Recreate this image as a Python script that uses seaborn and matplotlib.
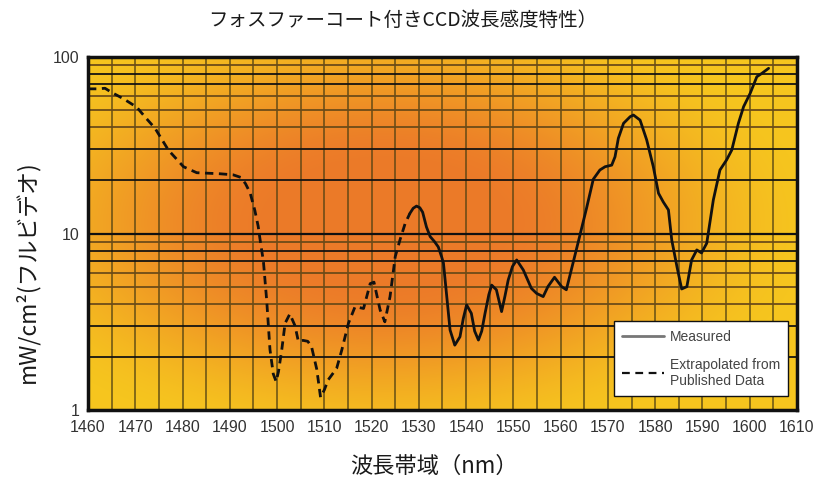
import numpy as np
import pandas as pd
import matplotlib
matplotlib.use("Agg")
import matplotlib.pyplot as plt
from matplotlib.lines import Line2D
from matplotlib.ticker import FixedLocator, NullFormatter
import seaborn as sns

# Extrapolated (published data) part of the sensitivity curve
extrap_nm = [1460, 1462, 1463.6, 1465, 1467.5, 1470.3, 1472.3, 1474.2, 1477, 1480.2,
             1483, 1487.9, 1490.7, 1492.3, 1493.3, 1494.3, 1495.3, 1496, 1496.6, 1497.1,
             1497.8, 1498.5, 1499.2, 1499.8, 1500.3, 1501, 1501.7, 1502.7, 1503.8, 1504.5,
             1505.5, 1506.5, 1507.3, 1508.4, 1509.2, 1510, 1510.8, 1512.6, 1513.7, 1515.1,
             1516.5, 1518.3, 1519.7, 1520.5, 1521.8, 1522.8, 1523.9, 1525, 1526, 1527.1,
             1528.1]
extrap_val = [66, 66, 66.5, 63, 58, 52, 45, 39.4, 29.7, 23.9,
              22.1, 21.8, 21.5, 20.8, 19.2, 17.0, 13.5, 11, 8.5, 7.0,
              4.2, 2.2, 1.6, 1.45, 1.65, 2.2, 3.1, 3.5, 3.0, 2.45,
              2.48, 2.45, 2.28, 1.7, 1.18, 1.3, 1.48, 1.72, 2.19, 3.1,
              3.85, 3.76, 5.2, 5.3, 3.69, 3.16, 4.39, 7.39, 9.19, 11.4,
              13.0]

# Measured part of the sensitivity curve
meas_nm = [1528.1, 1528.8, 1529.5, 1530.2, 1530.8, 1531.6, 1532.4, 1533.3, 1534.1, 1534.8,
           1535.2, 1535.9, 1536.6, 1537.6, 1538.7, 1539.4, 1540.1, 1541.1, 1541.8, 1542.6,
           1543.3, 1544, 1544.8, 1545.4, 1546.4, 1547.5, 1548.2, 1548.9, 1549.8, 1550.7,
           1552.1, 1553.8, 1554.9, 1556.3, 1557.3, 1558.7, 1560.2, 1561.2, 1562.6, 1564.0,
           1565.5, 1566.9, 1568.3, 1569.4, 1570.8, 1571.5, 1572.2, 1573.3, 1574.7, 1575.4,
           1576.8, 1578.2, 1579.6, 1580.7, 1581.7, 1582.8, 1583.5, 1584.6, 1585.6, 1586.7,
           1587.7, 1588.8, 1589.8, 1590.9, 1592.3, 1593.7, 1595.1, 1596.2, 1597.6, 1598.7,
           1600.1, 1601.5, 1602.6, 1604.0]
meas_val = [13.0, 13.9, 14.3, 14.0, 13.2, 10.9, 9.6, 9.0, 8.4, 7.4,
            6.8, 4.4, 2.84, 2.33, 2.60, 3.3, 3.94, 3.53, 2.8, 2.49,
            2.8, 3.53, 4.5, 5.1, 4.8, 3.61, 4.4, 5.45, 6.5, 7.08,
            6.21, 4.89, 4.58, 4.39, 5.0, 5.65, 5.0, 4.8, 6.78, 9.6,
            14.0, 20.3, 22.9, 23.9, 24.4, 27.2, 34.6, 42.1, 45.9, 46.9,
            43.9, 33.9, 23.9, 16.9, 15.1, 13.6, 9.19, 6.49, 4.85, 5.0,
            7.08, 8.07, 7.76, 8.8, 15.5, 22.9, 26.1, 29.7, 42.1, 52.3,
            62.3, 77.3, 80.9, 86.3]

x_ticks = list(range(1460, 1611, 10))
y_ticks = [1, 10, 100]
y_tick_labels = ["1", "10", "100"]

title = "フォスファーコート付きCCD波長感度特性）"
x_label = "波長帯域（nm）"
y_label = "mW/cm²(フルビデオ)"
legend_labels = ["Measured", "Extrapolated from\nPublished Data"]

sns.set_theme(style="white")
cjk = ["Noto Sans CJK JP", "DejaVu Sans"]
narrow = ["Liberation Sans Narrow", "Liberation Sans", "DejaVu Sans"]
plt.rcParams["font.family"] = cjk

fig = plt.figure(figsize=(8.18, 4.79), dpi=100)
ax = fig.add_axes([88 / 818, 1 - 410 / 479, 709 / 818, 353 / 479])

# Radial orange-to-yellow backdrop
h, w = 240, 480
yy, xx = np.mgrid[0:1:h * 1j, 0:1:w * 1j]
r = np.sqrt(((xx - 0.42) / 0.62) ** 2 + ((yy - 0.53) / 0.66) ** 2)
s = np.clip((r - 0.25) / 0.75, 0, 1)
t = s * s * (3 - 2 * s)
center = np.array([0.925, 0.48, 0.16])
edge = np.array([0.965, 0.775, 0.12])
img = center[None, None, :] * (1 - t[..., None]) + edge[None, None, :] * t[..., None]
ax.imshow(img, extent=(0, 1, 0, 1), transform=ax.transAxes, origin="lower",
          aspect="auto", zorder=0, interpolation="bilinear")

ax.set_xscale("linear")
ax.set_yscale("log")
ax.set_xlim(1460, 1610)
ax.set_ylim(1, 100)

# Grid: vertical every 5 nm, horizontal at every log step
for xv in np.arange(1465, 1610, 5):
    ax.axvline(xv, color="#4f4012", lw=1.2, alpha=0.8, zorder=1)
dark_steps = {2, 3, 7, 8}
for dec in (1, 10):
    for k in range(2, 10):
        col = "#111111" if k in dark_steps else "#6a4a18"
        ax.axhline(dec * k, color=col, lw=1.4, alpha=0.9, zorder=1)
ax.axhline(10, color="#111111", lw=1.6, zorder=1)

extrap = pd.DataFrame({"nm": extrap_nm, "value": extrap_val})
meas = pd.DataFrame({"nm": meas_nm, "value": meas_val})
sns.lineplot(data=extrap, x="nm", y="value", ax=ax, color="#111111", lw=2.0,
             linestyle=(0, (3, 2)), sort=False, zorder=3)
sns.lineplot(data=meas, x="nm", y="value", ax=ax, color="#111111", lw=2.0,
             sort=False, zorder=3)

ax.xaxis.set_major_locator(FixedLocator(x_ticks))
ax.yaxis.set_major_locator(FixedLocator(y_ticks))
ax.set_yticklabels(y_tick_labels)
ax.yaxis.set_minor_formatter(NullFormatter())
ax.tick_params(axis="both", which="both", length=0, colors="#333333", labelsize=11.5)
ax.tick_params(axis="x", pad=7)
ax.tick_params(axis="y", pad=6)
for lab in ax.get_xticklabels() + ax.get_yticklabels():
    lab.set_family(narrow)
ax.grid(False)

for sp in ax.spines.values():
    sp.set_visible(True)
    sp.set_color("#111111")
    sp.set_linewidth(2.5)
    sp.set_zorder(5)

ax.set_xlabel("")
ax.set_ylabel("")
fig.text(0.492, 0.958, title, ha="center", va="center", fontsize=14, color="#1a1a1a")
fig.text(0.530, 0.027, x_label, ha="center", va="center", fontsize=16, color="#1a1a1a")
fig.text(0.033, 0.432, y_label, ha="center", va="center", rotation=90, fontsize=16.5,
         color="#1a1a1a")

handles = [Line2D([0], [0], color="#777777", lw=2.0),
           Line2D([0], [0], color="#111111", lw=1.6, linestyle=(0, (3.5, 2.5)))]
leg = ax.legend(handles, legend_labels, loc="upper left", bbox_to_anchor=(0.742, 0.251),
                frameon=True, fancybox=False, framealpha=1, edgecolor="#111111",
                prop={"family": narrow, "size": 10}, labelcolor="#444444",
                handlelength=3.0, handletextpad=0.4, borderpad=0.6, labelspacing=1.0,
                borderaxespad=0)
leg.get_frame().set_linewidth(1.0)
leg.set_zorder(6)

fig.savefig("out.png", dpi=100)
